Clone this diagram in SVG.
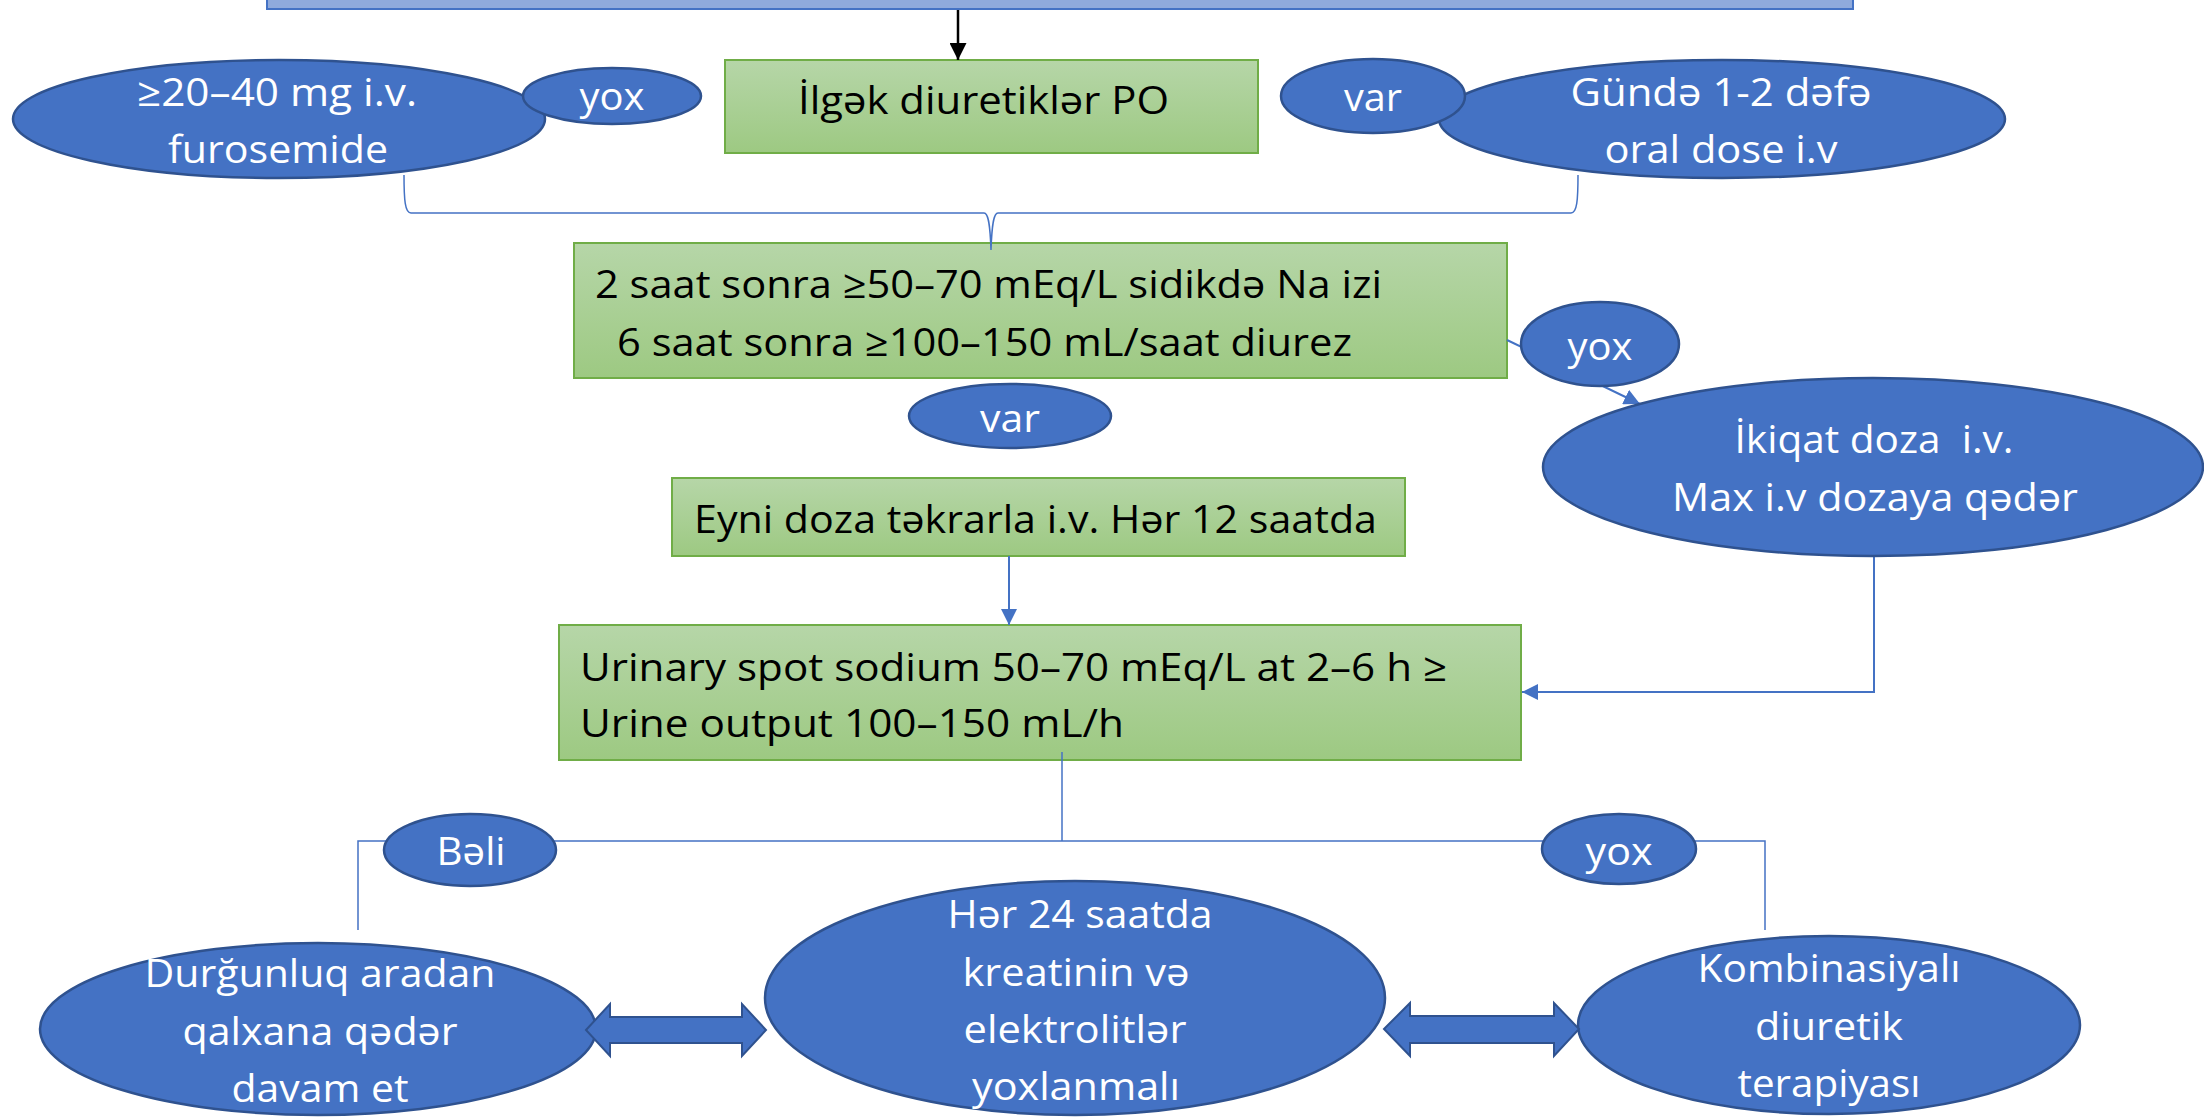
<svg xmlns="http://www.w3.org/2000/svg" width="2204" height="1117" viewBox="0 0 2204 1117">
<style>
.box{stroke:#70AD47;stroke-width:2;fill:url(#green)}
.ell{fill:#4472C4;stroke:#2F528F;stroke-width:2.5}
.t{font-family:"Open Sans","Liberation Sans",sans-serif;font-size:39px;white-space:pre}
.tb{fill:#000}
.tw{fill:#fff}
.c{fill:none;stroke:#4472C4;stroke-width:2}
.thin{fill:none;stroke:#4472C4;stroke-width:1.5}
.dbl{fill:#4472C4;stroke:#2F528F;stroke-width:2}
</style>
<defs>
<linearGradient id="green" x1="0" y1="0" x2="0" y2="1">
<stop offset="0" stop-color="#B6D6A8"/>
<stop offset="1" stop-color="#9DC982"/>
</linearGradient>
<marker id="ab" viewBox="0 0 16 16" markerWidth="16" markerHeight="16" refX="16" refY="8" orient="auto" markerUnits="userSpaceOnUse">
<path d="M0,0 L16,8 L0,16 z" fill="#4472C4"/>
</marker>
<marker id="ak" viewBox="0 0 16 16" markerWidth="17" markerHeight="17" refX="16" refY="8" orient="auto" markerUnits="userSpaceOnUse">
<path d="M0,0 L16,8 L0,16 z" fill="#000"/>
</marker>
</defs>
<rect width="2204" height="1117" fill="#fff"/>

<g id="boxes">
<g id="top-bar"><rect x="267" y="-20" width="1586" height="29" fill="#8FAADC" stroke="#4472C4" stroke-width="2"/></g>
<g id="box-ilgek">
<rect class="box" x="725" y="60" width="533" height="93"/>
<text class="t tb" x="798" y="114" textLength="371" lengthAdjust="spacingAndGlyphs">İlgək diuretiklər PO</text>
</g>
<g id="box-2saat">
<rect class="box" x="574" y="243" width="933" height="135"/>
<text class="t tb" x="595" y="298" textLength="787" lengthAdjust="spacingAndGlyphs">2 saat sonra ≥50–70 mEq/L sidikdə Na izi</text>
<text class="t tb" x="617" y="356" textLength="735" lengthAdjust="spacingAndGlyphs">6 saat sonra ≥100–150 mL/saat diurez</text>
</g>
<g id="box-eyni">
<rect class="box" x="672" y="478" width="733" height="78"/>
<text class="t tb" x="694" y="533" textLength="683" lengthAdjust="spacingAndGlyphs">Eyni doza təkrarla i.v. Hər 12 saatda</text>
</g>
<g id="box-urinary">
<rect class="box" x="559" y="625" width="962" height="135"/>
<text class="t tb" x="580" y="681" textLength="867" lengthAdjust="spacingAndGlyphs">Urinary spot sodium 50–70 mEq/L at 2–6 h ≥</text>
<text class="t tb" x="580" y="737" textLength="544" lengthAdjust="spacingAndGlyphs">Urine output 100–150 mL/h</text>
</g>
</g>

<g id="connectors">
<line x1="958" y1="10" x2="958" y2="60" stroke="#000" stroke-width="2.5" marker-end="url(#ak)"/>
<path class="thin" d="M404,175 C404,200 405,213 411,213 L984,213 C988,213 990,222 991,250 C992,222 994,213 998,213 L1571,213 C1577,213 1578,200 1578,175"/>
<line class="c" x1="1507" y1="340" x2="1640" y2="404" marker-end="url(#ab)"/>
<polyline class="c" points="1874,556 1874,692 1522,692" marker-end="url(#ab)"/>
<line class="c" x1="1009" y1="556" x2="1009" y2="625" marker-end="url(#ab)"/>
<line class="thin" x1="1062" y1="752" x2="1062" y2="841"/>
<polyline class="thin" points="358,930 358,841 1765,841 1765,930"/>
</g>

<g id="ellipses">
<g id="node-furosemide">
<ellipse class="ell" cx="279" cy="119" rx="266" ry="59"/>
<text class="t tw" x="277" y="106" text-anchor="middle" textLength="280" lengthAdjust="spacingAndGlyphs">≥20–40 mg i.v.</text>
<text class="t tw" x="278" y="163" text-anchor="middle" textLength="220" lengthAdjust="spacingAndGlyphs">furosemide</text>
</g>
<g id="label-yox-1">
<ellipse class="ell" cx="612" cy="96" rx="89" ry="28"/>
<text class="t tw" x="612" y="110" text-anchor="middle" textLength="65" lengthAdjust="spacingAndGlyphs">yox</text>
</g>
<g id="node-gunde">
<ellipse class="ell" cx="1722" cy="119" rx="283" ry="59"/>
<text class="t tw" x="1721" y="106" text-anchor="middle" textLength="301" lengthAdjust="spacingAndGlyphs">Gündə 1-2 dəfə</text>
<text class="t tw" x="1721" y="163" text-anchor="middle" textLength="233" lengthAdjust="spacingAndGlyphs">oral dose i.v</text>
</g>
<g id="label-var-1">
<ellipse class="ell" cx="1373" cy="96" rx="92" ry="37"/>
<text class="t tw" x="1373" y="111" text-anchor="middle" textLength="58" lengthAdjust="spacingAndGlyphs">var</text>
</g>
<g id="label-yox-2">
<ellipse class="ell" cx="1600" cy="344" rx="79" ry="42"/>
<text class="t tw" x="1600" y="360" text-anchor="middle" textLength="65" lengthAdjust="spacingAndGlyphs">yox</text>
</g>
<g id="label-var-2">
<ellipse class="ell" cx="1010" cy="416" rx="101" ry="32"/>
<text class="t tw" x="1010" y="432" text-anchor="middle" textLength="60" lengthAdjust="spacingAndGlyphs">var</text>
</g>
<g id="node-ikiqat">
<ellipse class="ell" cx="1873" cy="467" rx="330" ry="89"/>
<text class="t tw" x="1874" y="453" text-anchor="middle" textLength="279" lengthAdjust="spacingAndGlyphs">İkiqat doza  i.v.</text>
<text class="t tw" x="1875" y="511" text-anchor="middle" textLength="406" lengthAdjust="spacingAndGlyphs">Max i.v dozaya qədər</text>
</g>
<g id="label-beli">
<ellipse class="ell" cx="470" cy="850" rx="86" ry="36"/>
<text class="t tw" x="471" y="865" text-anchor="middle" textLength="69" lengthAdjust="spacingAndGlyphs">Bəli</text>
</g>
<g id="label-yox-3">
<ellipse class="ell" cx="1619" cy="849" rx="77" ry="35"/>
<text class="t tw" x="1619" y="865" text-anchor="middle" textLength="67" lengthAdjust="spacingAndGlyphs">yox</text>
</g>
<g id="node-durgunluq">
<ellipse class="ell" cx="318" cy="1029" rx="278" ry="86"/>
<text class="t tw" x="320" y="987" text-anchor="middle" textLength="351" lengthAdjust="spacingAndGlyphs">Durğunluq aradan</text>
<text class="t tw" x="320" y="1045" text-anchor="middle" textLength="275" lengthAdjust="spacingAndGlyphs">qalxana qədər</text>
<text class="t tw" x="320" y="1102" text-anchor="middle" textLength="177" lengthAdjust="spacingAndGlyphs">davam et</text>
</g>
<g id="node-her24">
<ellipse class="ell" cx="1075" cy="998" rx="310" ry="117"/>
<text class="t tw" x="1080" y="928" text-anchor="middle" textLength="265" lengthAdjust="spacingAndGlyphs">Hər 24 saatda</text>
<text class="t tw" x="1076" y="986" text-anchor="middle" textLength="227" lengthAdjust="spacingAndGlyphs">kreatinin və</text>
<text class="t tw" x="1075" y="1043" text-anchor="middle" textLength="223" lengthAdjust="spacingAndGlyphs">elektrolitlər</text>
<text class="t tw" x="1076" y="1100" text-anchor="middle" textLength="208" lengthAdjust="spacingAndGlyphs">yoxlanmalı</text>
</g>
<g id="node-kombinasiyali">
<ellipse class="ell" cx="1829" cy="1025" rx="251" ry="89"/>
<text class="t tw" x="1829" y="982" text-anchor="middle" textLength="263" lengthAdjust="spacingAndGlyphs">Kombinasiyalı</text>
<text class="t tw" x="1829" y="1040" text-anchor="middle" textLength="148" lengthAdjust="spacingAndGlyphs">diuretik</text>
<text class="t tw" x="1829" y="1097" text-anchor="middle" textLength="183" lengthAdjust="spacingAndGlyphs">terapiyası</text>
</g>
</g>

<g id="connectors-double">
<polygon class="dbl" points="586,1030 610,1004 610,1017 742,1017 742,1004 766,1030 742,1056 742,1043 610,1043 610,1056"/>
<polygon class="dbl" points="1384,1029 1410,1003 1410,1016 1554,1016 1554,1003 1579,1029 1554,1056 1554,1043 1410,1043 1410,1056"/>
</g>
</svg>
